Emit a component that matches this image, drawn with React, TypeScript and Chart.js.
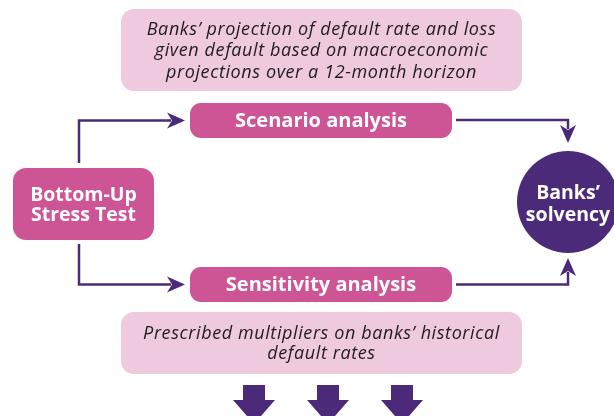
import React, { useEffect, useRef } from "react";
import { Chart, registerables } from "chart.js";

Chart.register(...registerables);

// ---- content ----
const topNoteLines = [
  "Banks’ projection of default rate and loss",
  "given default based on macroeconomic",
  "projections over a 12-month horizon",
];
const bottomNoteLines = ["Prescribed multipliers on banks’ historical", "default rates"];
const startLabelLines = ["Bottom-Up", "Stress Test"];
const analysisLabels = ["Scenario analysis", "Sensitivity analysis"];
const outcomeLabelLines = ["Banks’", "solvency"];

// ---- layout (diagram coordinates, 614 x 416 space) ----
const W = 614;
const H = 416;
const LAYOUT = {
  topNote: { x0: 121, y0: 9, x1: 522, y1: 91, r: 13 },
  bottomNote: { x0: 121, y0: 312, x1: 522, y1: 374, r: 13 },
  analysis: [
    { x0: 190, y0: 103, x1: 452, y1: 138, r: 11 },
    { x0: 190, y0: 267, x1: 452, y1: 302, r: 11 },
  ],
  start: { x0: 13, y0: 168, x1: 154, y1: 240, r: 13 },
  circle: { cx: 568, cy: 202, r: 51 },
  connectors: [
    [[79, 163], [79, 120.5], [185, 120.5]],
    [[79, 244], [79, 284.5], [185, 284.5]],
    [[456, 120], [568, 120], [568, 143]],
    [[456, 284.5], [568, 284.5], [568, 258]],
  ],
  downArrows: [254, 328, 402],
};
const COLORS = {
  note: "#efc9de",
  box: "#cd5495",
  purple: "#4b2a7a",
  text: "#1e1e1e",
  white: "#ffffff",
};
const FONT = "'Open Sans', sans-serif";

const diagramPlugin = {
  id: "diagram",
  afterDraw(chart: any) {
    const ctx: any = chart.ctx;
    const xs = chart.scales.x;
    const ys = chart.scales.y;
    const px = (v: number) => xs.getPixelForValue(v);
    const py = (v: number) => ys.getPixelForValue(v);

    const rrect = (b: any, fill: string) => {
      const x = px(b.x0), y = py(b.y0), w = px(b.x1) - x, h = py(b.y1) - y;
      ctx.beginPath();
      ctx.roundRect(x, y, w, h, b.r);
      ctx.fillStyle = fill;
      ctx.fill();
    };
    const lines = (arr: string[], cx: number, cy: number, lh: number, font: string, color: string, spacing = "0px") => {
      ctx.font = font;
      ctx.letterSpacing = spacing;
      ctx.fillStyle = color;
      ctx.textAlign = "center";
      ctx.textBaseline = "middle";
      const start = cy - ((arr.length - 1) * lh) / 2;
      arr.forEach((t, i) => ctx.fillText(t, px(cx), py(start + i * lh)));
      ctx.letterSpacing = "0px";
    };

    ctx.save();
    // notes
    const tn = LAYOUT.topNote;
    rrect(tn, COLORS.note);
    lines(topNoteLines, (tn.x0 + tn.x1) / 2, (tn.y0 + tn.y1) / 2 + 1, 21.5, `italic 18px ${FONT}`, COLORS.text, "0.6px");
    const bn = LAYOUT.bottomNote;
    rrect(bn, COLORS.note);
    lines(bottomNoteLines, (bn.x0 + bn.x1) / 2, (bn.y0 + bn.y1) / 2 + 1, 20.5, `italic 18px ${FONT}`, COLORS.text, "0.6px");

    // analysis boxes
    LAYOUT.analysis.forEach((b, i) => {
      rrect(b, COLORS.box);
      lines([analysisLabels[i]], (b.x0 + b.x1) / 2, (b.y0 + b.y1) / 2 + 1, 20, `bold 20px ${FONT}`, COLORS.white);
    });

    // start box
    const s = LAYOUT.start;
    rrect(s, COLORS.box);
    lines(startLabelLines, (s.x0 + s.x1) / 2, (s.y0 + s.y1) / 2 + 1, 20, `bold 19.5px ${FONT}`, COLORS.white);

    // circle
    const c = LAYOUT.circle;
    ctx.beginPath();
    ctx.arc(px(c.cx), py(c.cy), Math.abs(px(c.cx + c.r) - px(c.cx)), 0, Math.PI * 2);
    ctx.fillStyle = COLORS.purple;
    ctx.fill();
    lines(outcomeLabelLines, c.cx, c.cy + 2.5, 22, `bold 19.5px ${FONT}`, COLORS.white);

    // connectors
    ctx.strokeStyle = COLORS.purple;
    ctx.fillStyle = COLORS.purple;
    ctx.lineWidth = 2.5;
    LAYOUT.connectors.forEach((pts) => {
      const n = pts.length;
      const [ex, ey] = pts[n - 1];
      const [bx, by] = pts[n - 2];
      const dx = Math.sign(ex - bx), dy = Math.sign(ey - by);
      const len = 18, hw = 8;
      ctx.beginPath();
      ctx.moveTo(px(pts[0][0]), py(pts[0][1]));
      for (let i = 1; i < n - 1; i++) ctx.lineTo(px(pts[i][0]), py(pts[i][1]));
      ctx.lineTo(px(ex - dx * (len - 4)), py(ey - dy * (len - 4)));
      ctx.stroke();
      const baseX = ex - dx * len, baseY = ey - dy * len;
      ctx.beginPath();
      ctx.moveTo(px(ex), py(ey));
      ctx.lineTo(px(baseX + dy * hw), py(baseY + dx * hw));
      ctx.lineTo(px(ex - dx * (len - 5)), py(ey - dy * (len - 5)));
      ctx.lineTo(px(baseX - dy * hw), py(baseY - dx * hw));
      ctx.closePath();
      ctx.fill();
    });

    // down arrows
    LAYOUT.downArrows.forEach((cx) => {
      ctx.beginPath();
      ctx.moveTo(px(cx - 11), py(385));
      ctx.lineTo(px(cx + 11), py(385));
      ctx.lineTo(px(cx + 11), py(400));
      ctx.lineTo(px(cx + 21), py(400));
      ctx.lineTo(px(cx), py(424));
      ctx.lineTo(px(cx - 21), py(400));
      ctx.lineTo(px(cx - 11), py(400));
      ctx.closePath();
      ctx.fill();
    });
    ctx.restore();
  },
};

export default function App() {
  const ref = useRef<HTMLCanvasElement | null>(null);
  useEffect(() => {
    document.body.style.margin = "0";
    const canvas = ref.current!;
    const chart = new Chart(canvas, {
      type: "scatter",
      data: { datasets: [{ data: [], pointRadius: 0 }] },
      options: {
        animation: false,
        responsive: false,
        devicePixelRatio: 1,
        layout: { padding: 0 },
        plugins: { legend: { display: false }, tooltip: { enabled: false } },
        scales: {
          x: { type: "linear", min: 0, max: W, display: false },
          y: { type: "linear", min: 0, max: H, reverse: true, display: false },
        },
      },
      plugins: [diagramPlugin],
    });
    return () => chart.destroy();
  }, []);
  return (
    <div style={{ width: W, height: H, background: "#ffffff" }}>
      <canvas ref={ref} width={W} height={H} style={{ display: "block" }} />
    </div>
  );
}
